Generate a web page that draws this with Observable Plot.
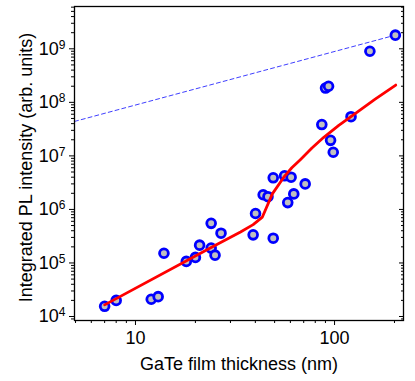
<!DOCTYPE html>
<html><head><meta charset="utf-8">
<script src="https://cdn.jsdelivr.net/npm/d3@7"></script>
<script src="https://cdn.jsdelivr.net/npm/@observablehq/plot@0.6"></script>
<style>
body{margin:0;background:#fff;}
#chart svg{display:block;}
</style></head><body><div id="chart"></div>
<script>
// Measured points: GaTe film thickness (nm) vs integrated PL intensity (arb. units)
const thickness = [7, 8, 12, 13, 13.9, 18, 20, 21, 24, 24, 25.1, 26.9, 39, 40.1, 43.8, 46.3, 49.2, 49.2, 56.1, 60.5, 58.2, 62.4, 71.2, 86.3, 90.1, 93.3, 95.5, 98.5, 121, 150.5, 202];
const intensity = [1.55e4, 2.0e4, 2.1e4, 2.35e4, 1.52e5, 1.07e5, 1.27e5, 2.15e5, 5.5e5, 1.9e5, 1.4e5, 3.6e5, 3.35e5, 8.4e5, 1.88e6, 1.73e6, 2.9e5, 3.9e6, 4.25e6, 4.0e6, 1.34e6, 1.95e6, 3.0e6, 3.85e7, 1.85e8, 2.0e8, 1.95e7, 1.17e7, 5.4e7, 9.0e8, 1.8e9];
// Red model curve
const fitX = [7, 24, 33.7, 39, 43.4, 48.7, 55.6, 61, 67.5, 77, 88, 105, 130, 160, 203];
const fitY = [1.65e4, 1.95e5, 3.8e5, 5.2e5, 7.2e5, 1.95e6, 4.0e6, 6.0e6, 8.6e6, 1.4e7, 2.2e7, 3.7e7, 6.6e7, 1.15e8, 2.1e8];
// Blue dashed linear reference
const refX = [4.94, 202];
const refY = [4.4e7, 1.8e9];
// Ticks
const xMajor = [10, 100];
const xMinor = [5, 6, 7, 8, 9, 20, 30, 40, 50, 60, 70, 80, 90, 200];
const yMajor = [1e4, 1e5, 1e6, 1e7, 1e8, 1e9];
const yMinor = [9e3,
  2e4, 3e4, 4e4, 5e4, 6e4, 7e4, 8e4, 9e4,
  2e5, 3e5, 4e5, 5e5, 6e5, 7e5, 8e5, 9e5,
  2e6, 3e6, 4e6, 5e6, 6e6, 7e6, 8e6, 9e6,
  2e7, 3e7, 4e7, 5e7, 6e7, 7e7, 8e7, 9e7,
  2e8, 3e8, 4e8, 5e8, 6e8, 7e8, 8e8, 9e8,
  2e9, 3e9, 4e9, 5e9, 6e9];

const points = thickness.map((x, i) => ({x, y: intensity[i]}));
const fit = fitX.map((x, i) => ({x, y: fitY[i]}));
const ref = refX.map((x, i) => ({x, y: refY[i]}));
const blank = () => "";

const chart = Plot.plot({
  width: 415, height: 381,
  marginLeft: 74, marginRight: 12, marginTop: 6, marginBottom: 61,
  style: {fontFamily: "'Liberation Sans', Arial, sans-serif", fontSize: "17.5px", color: "#000", background: "#fff"},
  x: {type: "log", domain: [4.94, 222]},
  y: {type: "log", domain: [8.42e3, 6.17e9]},
  marks: [
    Plot.axisX(xMajor, {tickSize: 5, tickPadding: 6, tickFormat: d => String(d), label: "GaTe film thickness (nm)", labelArrow: "none", labelAnchor: "center", labelOffset: 49, fontSize: 18}),
    Plot.axisX(xMinor, {tickSize: 3, tickFormat: blank, label: null}),
    Plot.axisY(yMajor, {tickSize: 5, tickPadding: 4, tickFormat: d => "10^" + Math.round(Math.log10(d)), label: "Integrated PL intensity (arb. units)", labelArrow: "none", labelAnchor: "center", labelOffset: 55, fontSize: 18}),
    Plot.axisY(yMinor, {tickSize: 3, tickFormat: blank, label: null}),
    Plot.axisY(yMajor, {anchor: "right", tickSize: 5, dx: -5, tickFormat: blank, label: null}),
    Plot.axisY(yMinor, {anchor: "right", tickSize: 3, dx: -3, tickFormat: blank, label: null}),
    Plot.line(ref, {x: "x", y: "y", stroke: "#3f3fff", strokeWidth: 1, strokeDasharray: "4,3"}),
    Plot.dot(points, {x: "x", y: "y", r: 4.4, fill: "#c0c0c0", stroke: "#0000ff", strokeWidth: 2.8}),
    Plot.line(fit, {x: "x", y: "y", stroke: "#ff0000", strokeWidth: 2.8}),
    Plot.frame({stroke: "#000", strokeWidth: 1.3})
  ]
});

// Superscript exponents on y tick labels
d3.select(chart).selectAll('g[aria-label="y-axis tick label"] text').each(function() {
  const t = this.textContent;
  if (!t.includes("^")) return;
  const [base, exp] = t.split("^");
  const sel = d3.select(this);
  sel.text(base);
  sel.append("tspan").attr("dy", "-6").attr("font-size", "12px").text(exp);
});
// Nudge the y-axis title slightly down, as in the reference (keep Plot's own transform)
d3.select(chart).selectAll('g[aria-label="y-axis label"]').each(function() {
  const prev = this.getAttribute("transform") || "";
  this.setAttribute("transform", ("translate(0,4) " + prev).trim());
});

document.getElementById("chart").appendChild(chart);
</script></body></html>
